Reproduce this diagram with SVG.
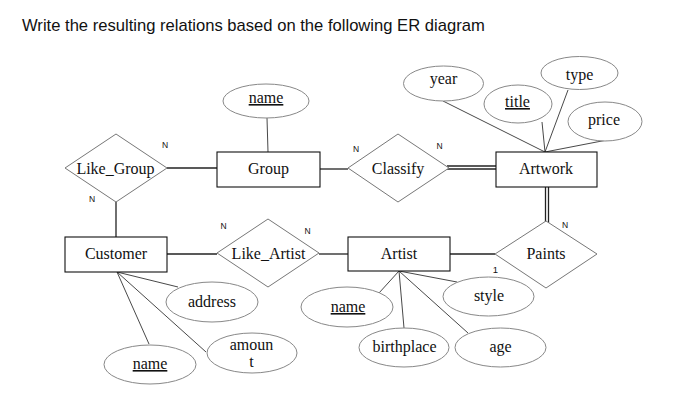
<svg xmlns="http://www.w3.org/2000/svg" width="678" height="410" viewBox="0 0 678 410">
<style>
.bg{fill:#ffffff}
.title{font-family:"Liberation Sans",Arial,sans-serif;font-size:16.6px;fill:#111}
.t{font-family:"Liberation Serif","Times New Roman",serif;font-size:16px;fill:#111;text-anchor:middle}
.u{text-decoration:underline}
.card{font-family:"Liberation Sans",Arial,sans-serif;font-size:8.5px;fill:#111;text-anchor:middle}
.one{font-size:9.5px}
.ent{fill:#fff;stroke:#111;stroke-width:1.1}
.rel{fill:#fff;stroke:#777;stroke-width:1}
.att{fill:#fff;stroke:#888;stroke-width:1}
.con{stroke:#222;stroke-width:1.3;fill:none}
.al{stroke:#333;stroke-width:0.9;fill:none}
</style>
<rect class="bg" x="0" y="0" width="678" height="410"/>
<text class="title" x="22" y="31">Write the resulting relations based on the following ER diagram</text>

<g id="connectors">
  <line class="con" x1="167" y1="168" x2="217" y2="168"/>
  <line class="con" x1="116" y1="202" x2="116" y2="237"/>
  <line class="con" x1="320" y1="169" x2="348" y2="169"/>
  <line class="con" x1="447" y1="166" x2="496" y2="166"/>
  <line class="con" x1="447" y1="169" x2="496" y2="169"/>
  <line class="con" x1="167" y1="254" x2="217" y2="254"/>
  <line class="con" x1="319" y1="254" x2="348" y2="254"/>
  <line class="con" x1="450" y1="254" x2="495" y2="254"/>
  <line class="con" x1="545.5" y1="187" x2="545.5" y2="222"/>
  <line class="con" x1="548.5" y1="187" x2="548.5" y2="223"/>
  <line class="al" x1="268" y1="152" x2="267" y2="118"/>
  <line class="al" x1="443" y1="101" x2="545" y2="152"/>
  <line class="al" x1="542" y1="122" x2="545" y2="152"/>
  <line class="al" x1="568" y1="90" x2="545" y2="152"/>
  <line class="al" x1="607" y1="140" x2="545" y2="152"/>
  <line class="al" x1="399" y1="271" x2="457" y2="282"/>
  <line class="al" x1="399" y1="271" x2="379" y2="293"/>
  <line class="al" x1="399" y1="271" x2="404" y2="328"/>
  <line class="al" x1="399" y1="271" x2="468" y2="333"/>
  <line class="al" x1="117" y1="272" x2="178" y2="287"/>
  <line class="al" x1="117" y1="272" x2="206" y2="352"/>
  <line class="al" x1="117" y1="272" x2="149" y2="344"/>
</g>

<g id="Group">
  <rect class="ent" x="217" y="152" width="103" height="35"/>
  <text class="t" x="268.5" y="174">Group</text>
</g>
<g id="Customer">
  <rect class="ent" x="65" y="237" width="102" height="35"/>
  <text class="t" x="116" y="259">Customer</text>
</g>
<g id="Artwork">
  <rect class="ent" x="496" y="152" width="101" height="35"/>
  <text class="t" x="546" y="174">Artwork</text>
</g>
<g id="Artist">
  <rect class="ent" x="348" y="237" width="102" height="34"/>
  <text class="t" x="399" y="258.5">Artist</text>
</g>

<g id="Like_Group">
  <polygon class="rel" points="116,134 167,168 116,202 65,168"/>
  <text class="t" x="115.5" y="173.5">Like_Group</text>
</g>
<g id="Classify">
  <polygon class="rel" points="398,134 449,168 398,202 348,168"/>
  <text class="t" x="398" y="173.5">Classify</text>
</g>
<g id="Like_Artist">
  <polygon class="rel" points="268,219 319,253 268,287 217,253"/>
  <text class="t" x="268.5" y="258.5">Like_Artist</text>
</g>
<g id="Paints">
  <polygon class="rel" points="546,221 597,254 546,288 495,254"/>
  <text class="t" x="546" y="258.5">Paints</text>
</g>

<g id="group_name">
  <ellipse class="att" cx="266" cy="101" rx="43" ry="17"/>
  <text class="t u" x="266" y="103">name</text>
</g>
<g id="year">
  <ellipse class="att" cx="443.5" cy="83.5" rx="40" ry="17.5"/>
  <text class="t" x="443.5" y="84">year</text>
</g>
<g id="title">
  <ellipse class="att" cx="518" cy="104" rx="34" ry="19"/>
  <text class="t u" x="517.5" y="107">title</text>
</g>
<g id="type">
  <ellipse class="att" cx="579.5" cy="73" rx="38.5" ry="16.5"/>
  <text class="t" x="579.5" y="79.5">type</text>
</g>
<g id="price">
  <ellipse class="att" cx="605" cy="121.5" rx="37" ry="19.5"/>
  <text class="t" x="604" y="125">price</text>
</g>
<g id="style">
  <ellipse class="att" cx="488.5" cy="296.5" rx="45.5" ry="19.5"/>
  <text class="t" x="489" y="301">style</text>
</g>
<g id="artist_name">
  <ellipse class="att" cx="347" cy="307" rx="46" ry="20"/>
  <text class="t u" x="348" y="312">name</text>
</g>
<g id="birthplace">
  <ellipse class="att" cx="404" cy="347.5" rx="45" ry="19.5"/>
  <text class="t" x="404.5" y="352">birthplace</text>
</g>
<g id="age">
  <ellipse class="att" cx="500.5" cy="347.5" rx="45.5" ry="19.5"/>
  <text class="t" x="500.5" y="352">age</text>
</g>
<g id="address">
  <ellipse class="att" cx="212" cy="302" rx="46" ry="20"/>
  <text class="t" x="212" y="307">address</text>
</g>
<g id="amount">
  <ellipse class="att" cx="252" cy="353" rx="45" ry="20"/>
  <text class="t" x="251.5" y="350">amoun</text>
  <text class="t" x="251.5" y="366.5">t</text>
</g>
<g id="customer_name">
  <ellipse class="att" cx="150" cy="364.5" rx="46" ry="19.5"/>
  <text class="t u" x="150" y="369">name</text>
</g>

<g id="cardinalities">
  <text class="card" x="165" y="148">N</text>
  <text class="card" x="92" y="202">N</text>
  <text class="card" x="223.5" y="228.5">N</text>
  <text class="card" x="307.5" y="234">N</text>
  <text class="card" x="356" y="152">N</text>
  <text class="card" x="439.5" y="149">N</text>
  <text class="card" x="565" y="228">N</text>
  <text class="card one" x="495.5" y="273">1</text>
</g>
</svg>
